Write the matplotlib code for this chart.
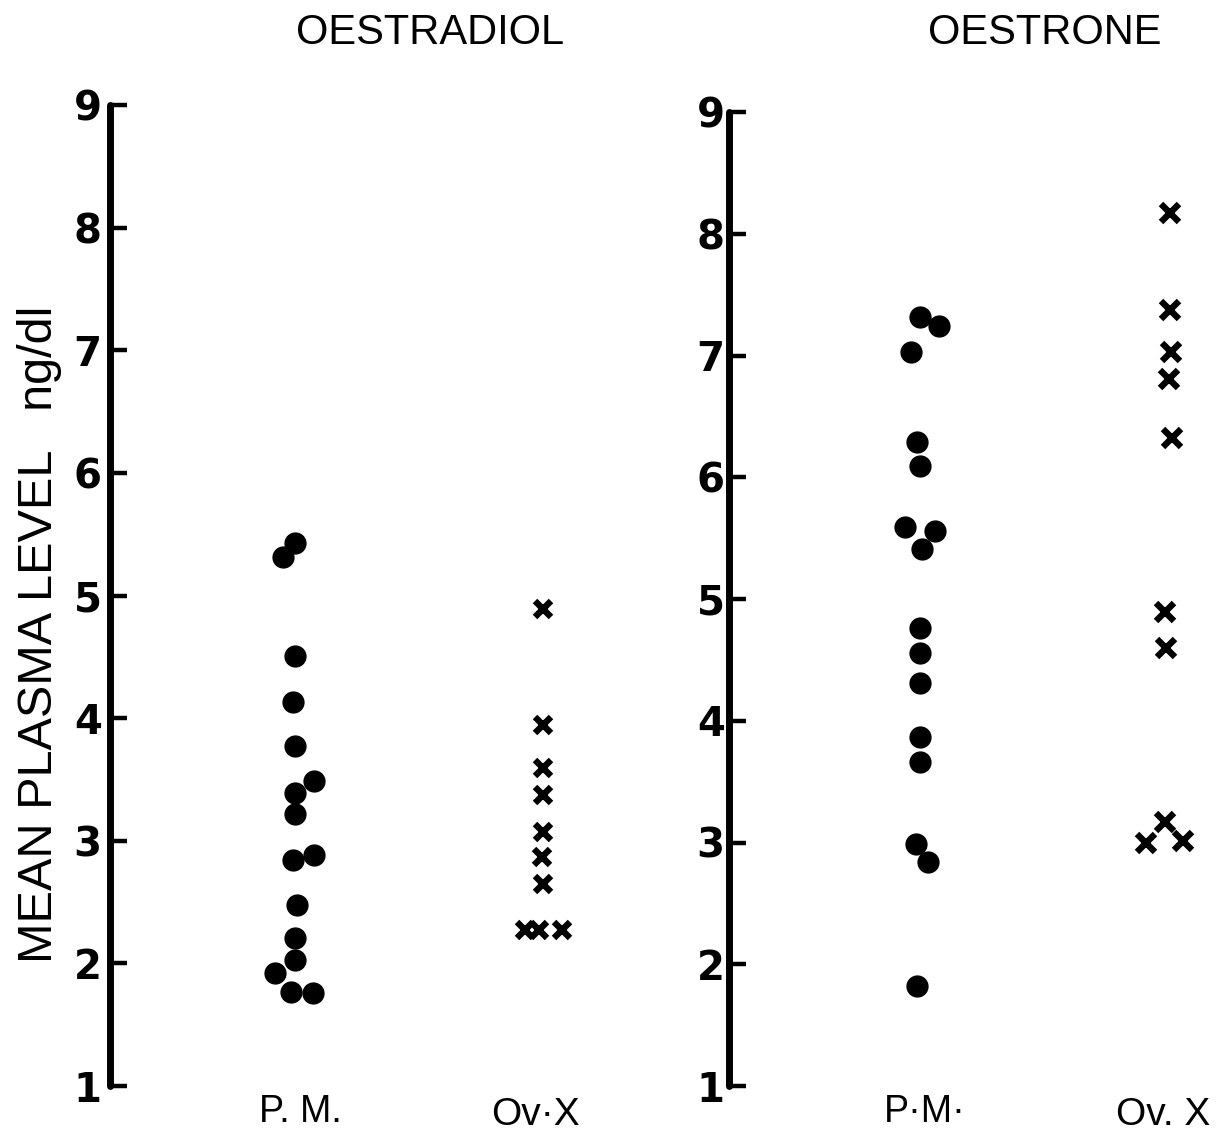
import numpy as np
import matplotlib
matplotlib.use("Agg")
import matplotlib.pyplot as plt

# mean plasma levels, ng/dl
e2_pm = [5.43, 5.31, 4.51, 4.13, 3.77, 3.49, 3.39, 3.22, 2.84, 2.88,
         2.48, 2.21, 2.03, 1.92, 1.77, 1.76]
e2_ovx = [4.89, 3.94, 3.59, 3.37, 3.07, 2.87, 2.65, 2.27, 2.27, 2.27]

e1_pm = [7.32, 7.24, 7.03, 6.29, 6.09, 5.59, 5.56, 5.41, 4.76, 4.56,
         4.31, 3.87, 3.66, 2.99, 2.84, 1.82]
e1_ovx = [8.17, 7.37, 7.03, 6.81, 6.32, 4.89, 4.60, 3.17, 3.00, 3.01]

# sideways spread so touching points stay visible
e2_pm_dx = [0.0, -0.05, 0.0, -0.01, 0.0, 0.075, 0.0, 0.0, -0.01, 0.078,
            0.01, 0.0, 0.0, -0.082, -0.016, 0.073]
e2_ovx_dx = [0.0, 0.0, 0.0, 0.0, 0.0, -0.005, 0.0, -0.073, -0.016, 0.077]
e1_pm_dx = [0.0, 0.077, -0.036, -0.012, 0.0, -0.06, 0.06, 0.008, 0.0, 0.0,
            0.0, 0.0, 0.0, -0.016, 0.032, -0.012]
e1_ovx_dx = [0.008, 0.008, 0.012, 0.004, 0.016, -0.012, -0.008, -0.012, -0.089, 0.06]

yticks = np.arange(1, 10)

W, H = 1225, 1137
fig = plt.figure(figsize=(W / 100, H / 100), dpi=100)
fig.patch.set_facecolor("white")

num_font = ["Liberation Sans Narrow", "DejaVu Sans"]
txt_font = ["Liberation Sans", "DejaVu Sans"]


def panel(x_spine, y_top, x_right, title, title_x, pm, pm_dx, ovx, ovx_dx,
          xs, label_pad, cross_size):
    # one x unit is 248 px; P.M. sits at x=1, Ov.X at x=2
    left = x_spine / W
    bottom = (H - 1086) / H
    height = (1086 - y_top) / H
    width = (x_right - x_spine) / W
    ax = fig.add_axes([left, bottom, width, height])
    ax.set_xlim(xs[0], xs[1])
    ax.set_ylim(1, 9)
    for s in ["top", "right", "bottom"]:
        ax.spines[s].set_visible(False)
    ax.spines["left"].set_linewidth(5)
    ax.spines["left"].set_capstyle("round")
    ax.set_yticks(yticks)
    ax.tick_params(axis="y", direction="in", length=12, width=3.2,
                   pad=label_pad)
    for t in ax.get_yticklabels():
        t.set_fontfamily(num_font)
        t.set_fontsize(29)
        t.set_fontweight("bold")
    ax.set_xticks([])

    ax.plot(1 + np.array(pm_dx), pm, "o", color="black", markersize=15,
            clip_on=False)
    ax.plot(2 + np.array(ovx_dx), ovx, "x", color="black",
            markersize=cross_size, markeredgewidth=4.6, clip_on=False)
    fig.text(title_x / W, 1 - 33 / H, title, ha="center", va="center",
             fontsize=30, family=txt_font)
    ax.patch.set_alpha(0)
    return ax


ax1 = panel(110, 105, 610, "OESTRADIOL", 430, e2_pm, e2_pm_dx, e2_ovx,
            e2_ovx_dx, (1 - 185 / 248, 2 + 67 / 248), 6, 11.5)
ax2 = panel(729, 112, 1225, "OESTRONE", 1045, e1_pm, e1_pm_dx, e1_ovx,
            e1_ovx_dx, (1 - 191 / 248, 2 + 57 / 248), 3, 12.5)

# group labels under each panel
for ax, pm_lab, ovx_lab, dx_pm, dx_ovx in [
        (ax1, "P. M.", "Ov·X", 0.02, -0.03),
        (ax2, "P·M·", "Ov. X", 0.02, -0.02)]:
    ax.text(1 + dx_pm, 1 - 26 / 122, pm_lab, ha="center", va="center",
            fontsize=27, family=txt_font, clip_on=False)
    ax.text(2 + dx_ovx, 1 - 29 / 122, ovx_lab, ha="center", va="center",
            fontsize=28, family=txt_font, clip_on=False)

fig.text(40 / W, 1 - 634 / H, "MEAN PLASMA LEVEL   ng/dl", rotation=90,
         ha="center", va="center", fontsize=35, family=txt_font)

fig.savefig("out.png", dpi=100, facecolor="white")
